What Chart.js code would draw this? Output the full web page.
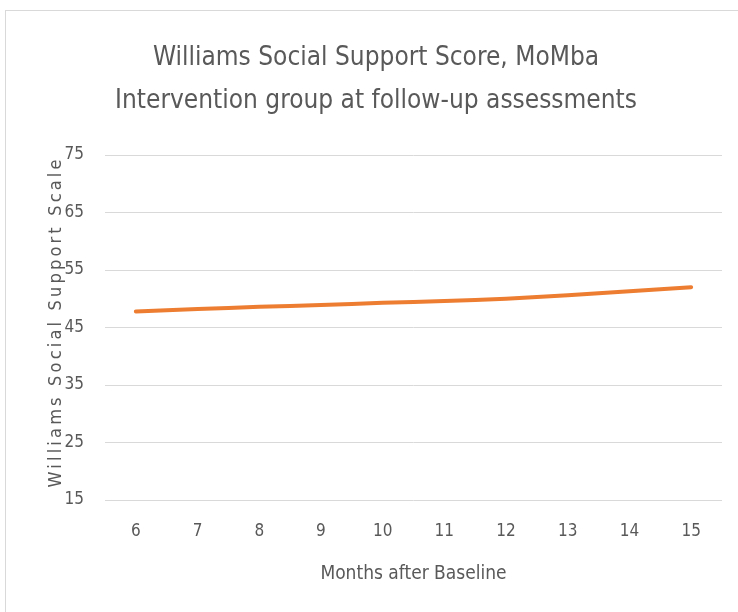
<!DOCTYPE html>
<html>
<head>
<meta charset="utf-8">
<script src="https://cdn.jsdelivr.net/npm/chart.js@4"></script>
<style>
  body { margin: 0; background: #fff; overflow: hidden; }
  #box { position: absolute; left: 5px; top: 10px; width: 740px; height: 601px;
         border-top: 1px solid #d9d9d9; border-left: 1px solid #d9d9d9; }
</style>
</head>
<body>
<div id="box"><canvas id="myChart"></canvas></div>
<script>
var mesi = ['6', '7', '8', '9', '10', '11', '12', '13', '14', '15'];
var punteggi = [47.8, 48.2, 48.6, 48.9, 49.3, 49.6, 50.0, 50.6, 51.3, 52.0];
var titolo = ['Williams Social Support Score, MoMba', 'Intervention group at follow-up assessments'];
var titoloX = 'Months after Baseline';
var titoloY = 'Williams Social Support Scale';

var font = '"Liberation Sans Narrow", "DejaVu Sans Condensed", sans-serif';
var grigio = '#595959';

// y axis title is drawn by hand so it can be letter-spaced like the original
var titoloAsseY = {
  id: 'titoloAsseY',
  afterDraw: function(chart) {
    var ctx = chart.ctx;
    var area = chart.chartArea;
    ctx.save();
    ctx.font = '18px ' + font;
    ctx.fillStyle = grigio;
    var larghezza = ctx.measureText(titoloY).width;
    var spazio = (328 - larghezza) / (titoloY.length - 1);
    ctx.letterSpacing = spazio + 'px';
    ctx.translate(50, (area.top + area.bottom) / 2 - 4);
    ctx.rotate(-Math.PI / 2);
    ctx.textAlign = 'center';
    ctx.textBaseline = 'middle';
    ctx.fillText(titoloY, spazio / 2, 0);
    ctx.restore();
  }
};

var ctx = document.getElementById('myChart').getContext('2d');
var chart = new Chart(ctx, {
  type: 'line',
  data: {
    labels: mesi,
    datasets: [{
      label: 'Williams Social Support Scale',
      data: punteggi,
      borderColor: '#ED7D31',
      backgroundColor: '#ED7D31',
      borderWidth: 4,
      borderCapStyle: 'round',
      pointRadius: 0,
      tension: 0.3
    }]
  },
  options: {
    responsive: true,
    maintainAspectRatio: false,
    animation: false,
    layout: { padding: 0 },
    plugins: {
      legend: { display: false },
      tooltip: { enabled: false },
      title: {
        display: true,
        text: titolo,
        color: grigio,
        font: { family: font, size: 26, weight: 'normal', lineHeight: '43px' },
        padding: { top: 26, bottom: 32 }
      }
    },
    scales: {
      x: {
        offset: true,
        grid: { display: false },
        border: { display: false },
        ticks: { color: grigio, font: { family: font, size: 17 }, padding: 13, maxRotation: 0 },
        title: { display: true, text: titoloX, color: grigio, font: { family: font, size: 19 }, padding: { top: 0, bottom: 27 } },
        afterFit: function(scale) { scale.height = 112; }
      },
      y: {
        min: 15,
        max: 75,
        grid: { color: '#d9d9d9', lineWidth: 1, drawTicks: false },
        border: { display: false },
        ticks: { stepSize: 10, color: grigio, font: { family: font, size: 17 }, padding: 21 },
        afterFit: function(scale) { scale.width = 99; }
      },
      // empty right margin so the plot ends where the original does
      destra: {
        position: 'right',
        grid: { display: false },
        border: { display: false },
        ticks: { display: false },
        afterFit: function(scale) { scale.width = 24; }
      }
    }
  },
  plugins: [titoloAsseY]
});
</script>
</body>
</html>
